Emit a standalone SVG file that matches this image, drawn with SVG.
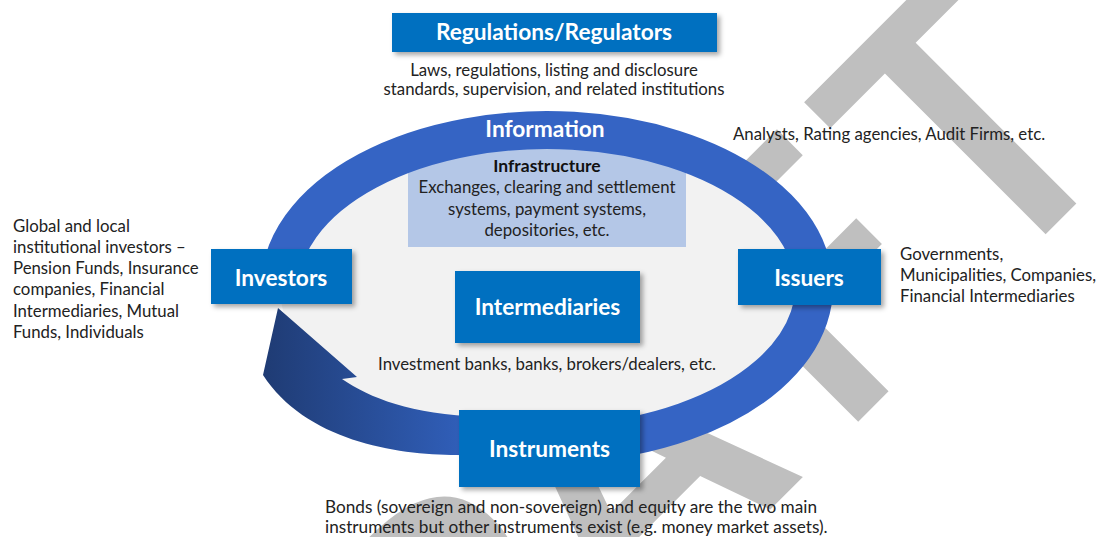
<svg xmlns="http://www.w3.org/2000/svg" width="1098" height="537" viewBox="0 0 1098 537">
<defs>
<style>
.wm{font-family:"Open Sans","Liberation Sans",sans-serif;font-weight:600;font-size:370px;fill:#bfbfbf}
.box{fill:#0070c0;filter:url(#sh)}
.lbl{font-family:Lato,"Liberation Sans",sans-serif;font-weight:bold;font-size:22.7px;fill:#ffffff;text-anchor:middle}
.txt{font-family:Lato,"Liberation Sans",sans-serif;font-size:16.8px;fill:#222222}
.mid{text-anchor:middle}
.b{font-weight:bold;fill:#111111;font-size:17.5px}
</style>
<filter id="sh" x="-10%" y="-15%" width="125%" height="140%">
<feDropShadow dx="3" dy="3" stdDeviation="2.5" flood-color="#000000" flood-opacity="0.35"/>
</filter>
<linearGradient id="arrowGrad" x1="262" y1="0" x2="482" y2="0" gradientUnits="userSpaceOnUse">
<stop offset="0" stop-color="#1f3b73"/>
<stop offset="1" stop-color="#3262c0"/>
</linearGradient>
</defs>

<g id="watermark">
<text class="wm" transform="rotate(-45)" x="-480 -228 -14 274 491" y="905">DRAFT</text>
</g>

<g id="cycle-background">
<ellipse cx="547" cy="287" rx="267" ry="157" fill="#f2f2f2"/>
</g>

<g id="infrastructure">
<rect x="408" y="145" width="278" height="102" fill="#b4c7e7"/>
<text class="txt mid b" x="547" y="172">Infrastructure</text>
<text class="txt mid" x="547" y="193">Exchanges, clearing and settlement</text>
<text class="txt mid" x="547" y="215">systems, payment systems,</text>
<text class="txt mid" x="547" y="236">depositories, etc.</text>
</g>

<g id="connectors">
<path d="M280,287 A267,157 0 1 1 470,437.4" fill="none" stroke="#3564c4" stroke-width="38"/>
<path d="M482,456 L457,455 C395,455 305,440 263,375 L278,308 L357,377 L342,379 C370,398 410,414 482,417 Z" fill="url(#arrowGrad)"/>
</g>

<g id="information">
<text class="lbl" x="545" y="137">Information</text>
</g>

<g id="regulators">
<rect class="box" x="392" y="13" width="325" height="39"/>
<text class="lbl" x="554" y="40">Regulations/Regulators</text>
<text class="txt mid" x="554" y="76">Laws, regulations, listing and disclosure</text>
<text class="txt mid" x="554" y="95">standards, supervision, and related institutions</text>
</g>

<g id="analysts">
<text class="txt" x="733" y="140">Analysts, Rating agencies, Audit Firms, etc.</text>
</g>

<g id="investors">
<rect class="box" x="211" y="249" width="141" height="55"/>
<text class="lbl" x="281" y="286">Investors</text>
<text class="txt" x="13" y="232">Global and local</text>
<text class="txt" x="13" y="253">institutional investors –</text>
<text class="txt" x="13" y="274">Pension Funds, Insurance</text>
<text class="txt" x="13" y="295">companies, Financial</text>
<text class="txt" x="13" y="317">Intermediaries, Mutual</text>
<text class="txt" x="13" y="338">Funds, Individuals</text>
</g>

<g id="issuers">
<rect class="box" x="738" y="249" width="143" height="56"/>
<text class="lbl" x="809" y="286">Issuers</text>
<text class="txt" x="900" y="260">Governments,</text>
<text class="txt" x="900" y="281">Municipalities, Companies,</text>
<text class="txt" x="900" y="302">Financial Intermediaries</text>
</g>

<g id="intermediaries">
<rect class="box" x="455" y="271" width="185" height="72"/>
<text class="lbl" x="547.5" y="315">Intermediaries</text>
<text class="txt mid" x="547" y="370">Investment banks, banks, brokers/dealers, etc.</text>
</g>

<g id="instruments">
<rect class="box" x="459" y="410" width="181" height="77"/>
<text class="lbl" x="549.5" y="457">Instruments</text>
<text class="txt" x="325" y="513" style="font-size:17.2px">Bonds (sovereign and non-sovereign) and equity are the two main</text>
<text class="txt" x="325" y="533" style="font-size:17.2px">instruments but other instruments exist (e.g. money market assets).</text>
</g>
</svg>
